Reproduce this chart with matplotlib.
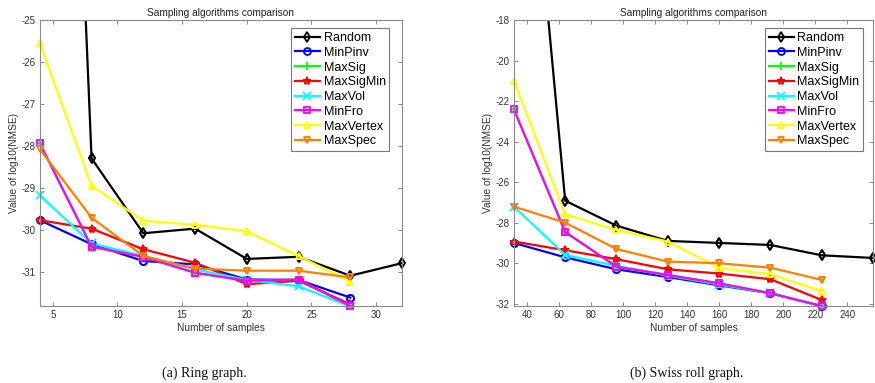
import matplotlib
matplotlib.use("Agg")
import matplotlib.pyplot as plt

plt.rcParams['font.family'] = ['Liberation Sans', 'DejaVu Sans']
plt.rcParams['axes.unicode_minus'] = False

names = ["Random", "MinPinv", "MaxSig", "MaxSigMin", "MaxVol", "MinFro", "MaxVertex", "MaxSpec"]
colors = ["#000000", "#0000ff", "#00ff00", "#ff0000", "#00ffff", "#ff00ff", "#ffff00", "#ff8000"]
markers = ["d", "o", "+", "*", "x", "s", "^", "v"]

# (a) Ring graph
ring_x = [4, 8, 12, 16, 20, 24, 28]
ring_x_random = [4, 8, 12, 16, 20, 24, 28, 32]
ring_random = [1.0, -28.29, -30.07, -29.96, -30.68, -30.63, -31.08, -30.78]
ring_minpinv = [-29.76, -30.33, -30.73, -30.81, -31.17, -31.18, -31.60]
ring_maxsig = [-27.93, -30.39, -30.63, -31.01, -31.20, -31.17, -31.80]
ring_maxsigmin = [-29.76, -29.96, -30.45, -30.77, -31.28, -31.20, -31.76]
ring_maxvol = [-29.17, -30.31, -30.61, -30.93, -31.18, -31.33, -31.81]
ring_minfro = [-27.93, -30.39, -30.63, -31.01, -31.20, -31.17, -31.80]
ring_maxvertex = [-25.55, -28.94, -29.77, -29.87, -30.02, -30.61, -31.22]
ring_maxspec = [-28.07, -29.70, -30.61, -30.91, -30.96, -30.96, -31.12]

# (b) Swiss roll graph
swiss_x = [32, 64, 96, 128, 160, 192, 224]
swiss_x_random = [32, 64, 96, 128, 160, 192, 224, 256]
swiss_random = [0.3, -26.91, -28.14, -28.89, -28.99, -29.09, -29.60, -29.73]
swiss_minpinv = [-28.99, -29.70, -30.29, -30.67, -31.08, -31.47, -32.10]
swiss_maxsig = [-22.40, -28.45, -30.16, -30.57, -30.98, -31.47, -32.10]
swiss_maxsigmin = [-28.92, -29.35, -29.79, -30.29, -30.50, -30.78, -31.80]
swiss_maxvol = [-27.20, -29.58, -30.12, -30.60, -31.04, -31.47, -32.10]
swiss_minfro = [-22.40, -28.45, -30.16, -30.57, -30.98, -31.47, -32.10]
swiss_maxvertex = [-20.99, -27.58, -28.35, -28.92, -30.21, -30.53, -31.36]
swiss_maxspec = [-27.20, -27.99, -29.29, -29.91, -29.99, -30.21, -30.81]

ring_series = [ring_random, ring_minpinv, ring_maxsig, ring_maxsigmin,
               ring_maxvol, ring_minfro, ring_maxvertex, ring_maxspec]
swiss_series = [swiss_random, swiss_minpinv, swiss_maxsig, swiss_maxsigmin,
                swiss_maxvol, swiss_minfro, swiss_maxvertex, swiss_maxspec]

ring_xticks = [5, 10, 15, 20, 25, 30]
ring_yticks = [-31, -30, -29, -28, -27, -26, -25]
swiss_xticks = [40, 60, 80, 100, 120, 140, 160, 180, 200, 220, 240]
swiss_yticks = [-32, -30, -28, -26, -24, -22, -20, -18]

fig = plt.figure(figsize=(8.75, 3.83), dpi=100)
ax1 = fig.add_axes([0.0455, 0.201, 0.414, 0.7467])
ax2 = fig.add_axes([0.5873, 0.201, 0.4104, 0.7467])

edge = "#8a8a8a"
tcol = "#333333"


def draw(ax, xs, xr, series, xlim, ylim, xticks, yticks, leg_x):
    for i, (nm, c, m, ys) in enumerate(zip(names, colors, markers, series)):
        xx = xr if i == 0 else xs
        ms = 6 if m in ("+", "*", "x") else 5
        ax.plot(xx, ys, color=c, marker=m, lw=1.6, ms=ms, mew=1.3,
                mfc="none", mec=c, label=nm, clip_on=True)
        inx = [a for a, b in zip(xx, ys) if ylim[0] - 0.05 <= b <= ylim[1]]
        iny = [b for a, b in zip(xx, ys) if ylim[0] - 0.05 <= b <= ylim[1]]
        ax.plot(inx, iny, ls="none", color=c, marker=m, ms=ms, mew=1.3,
                mfc="none", mec=c, clip_on=False)
    ax.set_xlim(*xlim)
    ax.set_ylim(*ylim)
    ax.set_xticks(xticks)
    ax.set_yticks(yticks)
    ax.tick_params(direction="in", length=3, width=0.7, colors=edge,
                   labelcolor=tcol, labelsize=7, top=True, right=True, pad=3)
    for s in ax.spines.values():
        s.set_color(edge)
        s.set_linewidth(0.8)
    ax.set_title("Sampling algorithms comparison", fontsize=7.3, color="#222222", pad=3)
    ax.set_xlabel("Number of samples", fontsize=7.3, color="#333333", labelpad=2)
    ax.set_ylabel("Value of log10(NMSE)", fontsize=7.3, color="#333333", labelpad=2)
    leg = ax.legend(loc="upper right", bbox_to_anchor=(leg_x, 0.971), borderaxespad=0,
                    fontsize=9, frameon=True, fancybox=False, handlelength=2.0,
                    handletextpad=0.3, labelspacing=0.22, borderpad=0.3, numpoints=1)
    leg.get_frame().set_edgecolor("#555555")
    leg.get_frame().set_linewidth(0.8)
    leg.set_zorder(5)


draw(ax1, ring_x, ring_x_random, ring_series, (4, 32), (-31.8, -25),
     ring_xticks, ring_yticks, 0.965)
draw(ax2, swiss_x, swiss_x_random, swiss_series, (32, 256), (-32.1, -18),
     swiss_xticks, swiss_yticks, 0.973)

fig.text(0.2335, 0.026, "(a) Ring graph.", ha="center", va="center",
         fontsize=10, family=["Liberation Serif", "DejaVu Serif"], color="#111111")
fig.text(0.785, 0.026, "(b) Swiss roll graph.", ha="center", va="center",
         fontsize=10, family=["Liberation Serif", "DejaVu Serif"], color="#111111")

fig.savefig("out.png", dpi=100)
